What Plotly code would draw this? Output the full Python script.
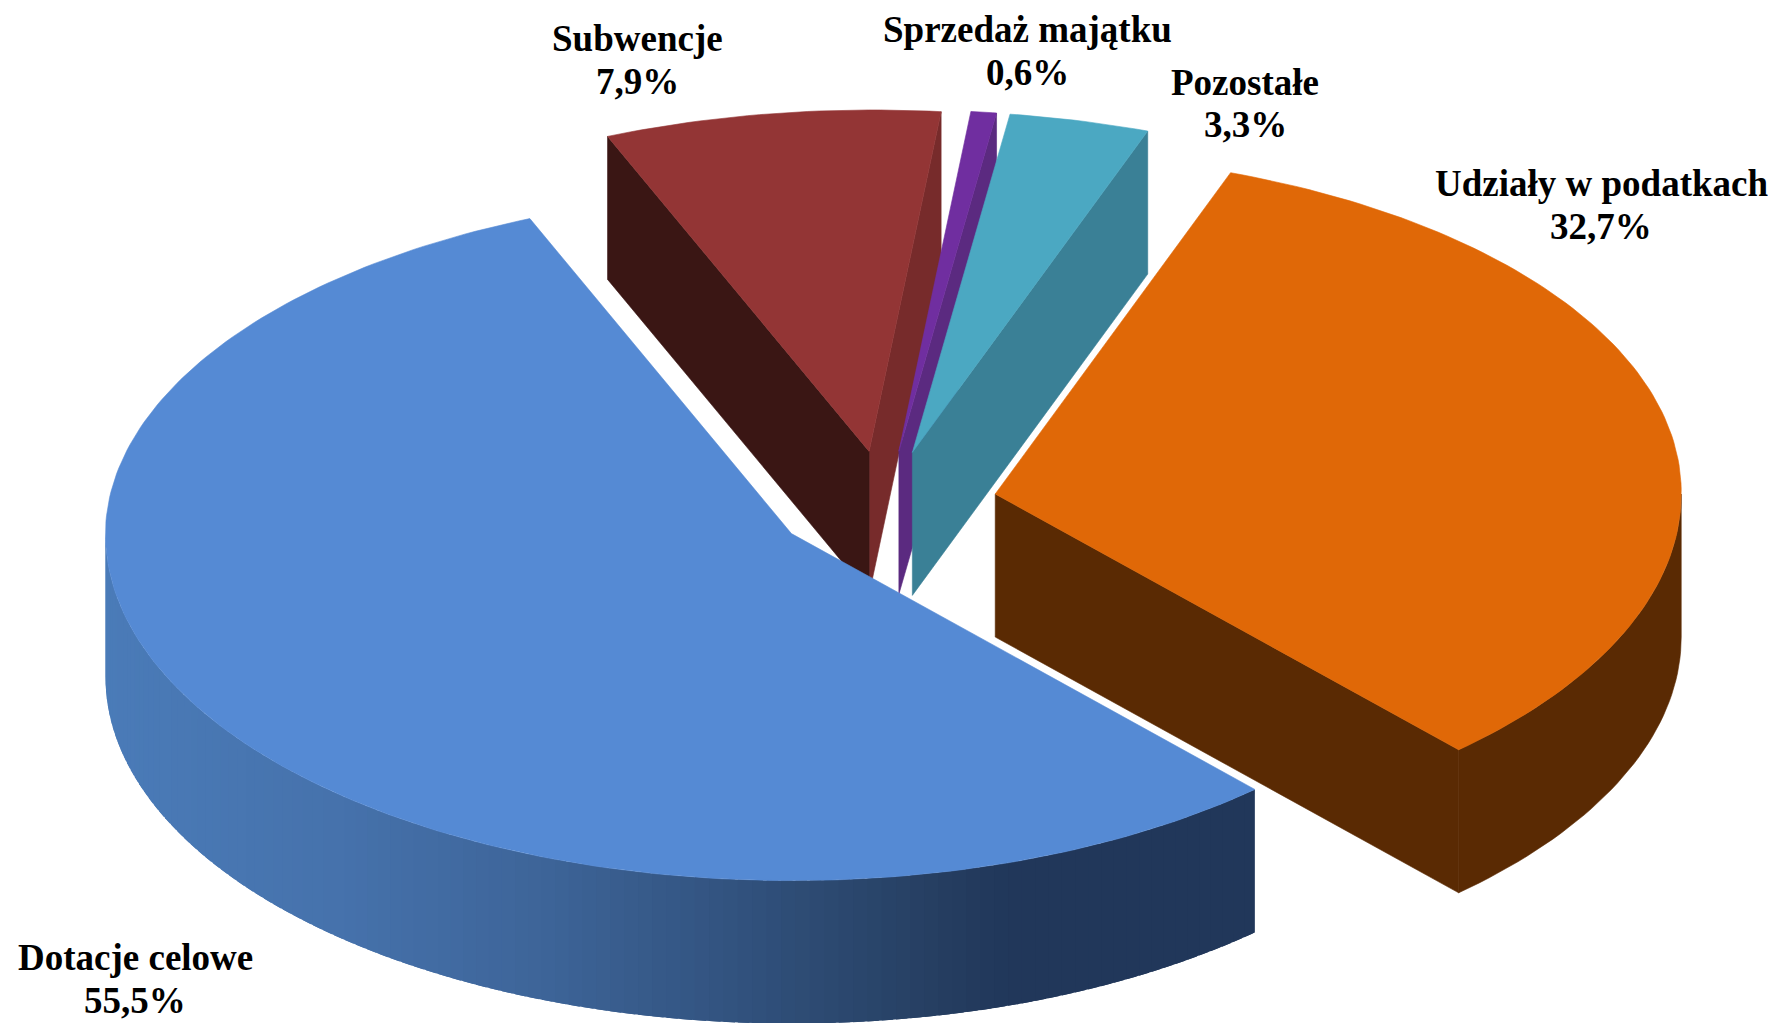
import math
import plotly.graph_objects as go

# --- data ---
categories = ["Dotacje celowe", "Udziały w podatkach", "Pozostałe", "Sprzedaż majątku", "Subwencje"]
shares = [55.5, 32.7, 3.3, 0.6, 7.9]

# --- styles ---
top_colors = ["#558AD4", "#E06807", "#4BA8C2", "#702EA0", "#933535"]
start_wall = ["#21375A", "#5A2A03", "#3A8096", "#5B2A80", "#772B2B"]
end_wall = ["#21375A", "#5A2A03", "#3A8096", "#5B2A80", "#3A1614"]
gradient_stops = [(0.0, "#4A7BB8"), (0.2, "#4672AC"), (0.385, "#3D6498"), (0.585, "#2F4E78"),
                  (0.718, "#263F62"), (0.784, "#21375A"), (1.0, "#21375A")]
draw_order = [4, 3, 2, 1, 0]

W, H = 1778, 1023
CX, CY, RX, RY, DEPTH = 885.6, 504.6, 686.0, 347.0, 143.0
EXPLODE_X, EXPLODE_Y = 0.163, 0.155
BACK = 0.984   # far half of the disc is foreshortened slightly
SHEAR = 0.005  # and leans a touch to the right
START_ANGLE = 112.7
d = DEPTH / RY  # wall height, in axis units


def hex_rgb(c):
    return tuple(int(c[i:i + 2], 16) for i in (1, 3, 5))


def grad(f):
    f = max(0.0, min(1.0, f))
    for (a, ca), (b, cb) in zip(gradient_stops, gradient_stops[1:]):
        if f <= b:
            u = (f - a) / (b - a)
            ra, rb = hex_rgb(ca), hex_rgb(cb)
            return "#%02X%02X%02X" % tuple(round(p + (q - p) * u) for p, q in zip(ra, rb))
    return gradient_stops[-1][1]


def poly(xs, ys, color, lw=0.6):
    return go.Scatter(x=xs, y=ys, mode="lines", fill="toself", fillcolor=color,
                      line=dict(color=color, width=lw), hoverinfo="skip", showlegend=False)


def cs(r):
    s = math.sin(r)
    return math.cos(r) + (s * SHEAR if s > 0 else 0)


def sn(r):
    s = math.sin(r)
    return s * BACK if s > 0 else s


# angular extent of each slice, from the shares
spans = []
a = START_ANGLE
for v in shares:
    spans.append((a, a + v * 3.6))
    a += v * 3.6

fig = go.Figure()
for i in draw_order:
    t0, t1 = spans[i]
    mid = math.radians((t0 + t1) / 2)
    ox, oy = EXPLODE_X * math.cos(mid), EXPLODE_Y * math.sin(mid)
    r0, r1 = math.radians(t0), math.radians(t1)
    p0 = (ox + cs(r0), oy + sn(r0))
    p1 = (ox + cs(r1), oy + sn(r1))
    # radial walls that face the viewer
    if -math.cos(r0) < 0:
        fig.add_trace(poly([ox, p0[0], p0[0], ox, ox], [oy, p0[1], p0[1] - d, oy - d, oy], start_wall[i]))
    if math.cos(r1) < 0:
        fig.add_trace(poly([ox, p1[0], p1[0], ox, ox], [oy, p1[1], p1[1] - d, oy - d, oy], end_wall[i]))
    # outer rim: the lower half of the ellipse
    lo, hi = max(t0, 180), min(t1, 360)
    if hi > lo:
        if i == 0:
            n = 110
            for k in range(n):
                s0 = math.radians(lo + (hi - lo) * k / n)
                s1 = math.radians(lo + (hi - lo) * (k + 1) / n)
                # each strip runs a little under the next, so no seam shows
                s2 = math.radians(lo + (hi - lo) * min(k + 1.8, n) / n)
                x0, x2 = ox + math.cos(s0), ox + math.cos(s2)
                f = (math.cos(s0) + math.cos(s1)) / 2
                f = (f + 1) / (1 + math.cos(r1))
                y0, y2 = oy + math.sin(s0), oy + math.sin(s2)
                fig.add_trace(poly([x0, x2, x2, x0, x0], [y0, y2, y2 - d, y0 - d, y0], grad(f), lw=0))
        else:
            n = 40
            ss = [math.radians(lo + (hi - lo) * k / n) for k in range(n + 1)]
            xs = [ox + math.cos(s) for s in ss]
            ys = [oy + math.sin(s) for s in ss]
            fig.add_trace(poly(xs + xs[::-1] + xs[:1], ys + [y - d for y in ys[::-1]] + ys[:1], start_wall[i]))
    # top face
    m = max(6, int(t1 - t0))
    ss = [math.radians(t0 + (t1 - t0) * k / m) for k in range(m + 1)]
    fig.add_trace(poly([ox] + [ox + cs(s) for s in ss] + [ox],
                       [oy] + [oy + sn(s) for s in ss] + [oy], top_colors[i]))

# labels, built from the data; each text line is placed on its own for the tight leading
label_x = [135, 1601, 1245, 1027, 637]
label_name_y = [957, 183, 82, 30, 39]
label_value_y = [1000, 226, 124, 72, 81]
for name, v, lx, ny, vy in zip(categories, shares, label_x, label_name_y, label_value_y):
    for txt, ly in ((name, ny), (f"{v:.1f}".replace(".", ",") + "%", vy)):
        fig.add_annotation(x=lx / W, y=1 - ly / H, xref="paper", yref="paper", showarrow=False,
                           text="<b>%s</b>" % txt,
                           font=dict(family="Liberation Serif", size=37, color="#000000"),
                           xanchor="center", yanchor="middle")

fig.update_layout(width=W, height=H, margin=dict(l=0, r=0, t=0, b=0),
                  paper_bgcolor="white", plot_bgcolor="white", showlegend=False,
                  xaxis=dict(visible=False, range=[-CX / RX, (W - CX) / RX]),
                  yaxis=dict(visible=False, range=[(CY - H) / RY, CY / RY]))
fig.write_html("out.html", post_script="document.body.style.margin='0';document.body.style.overflow='hidden';",
               config={"displayModeBar": False})
